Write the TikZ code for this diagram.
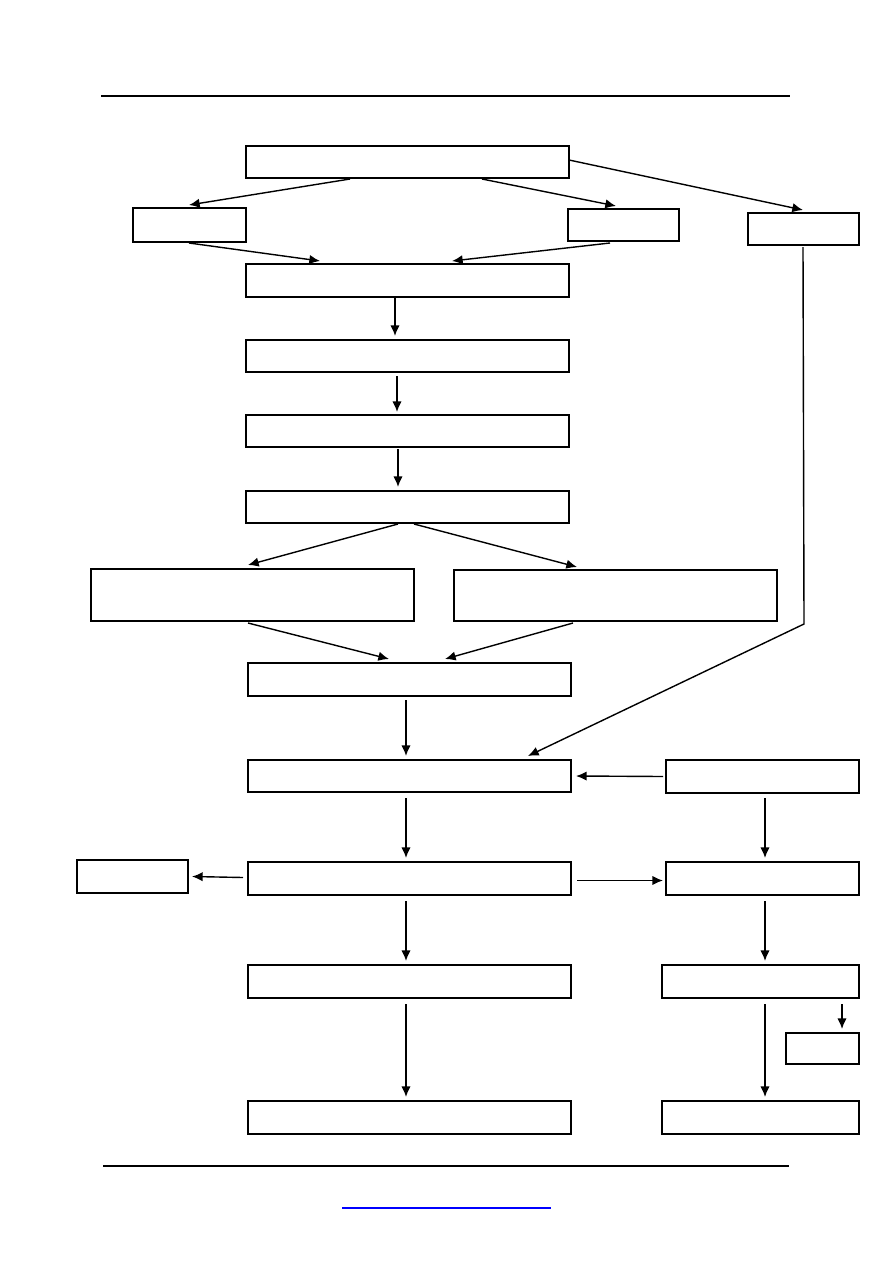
\documentclass[tikz,border=0pt]{standalone}
\usetikzlibrary{fit,calc,arrows.meta}
\begin{document}
\begin{tikzpicture}[x=0.75pt,y=-0.75pt,
  box/.style={draw,line width=1.2pt,inner sep=0pt,outer sep=0pt,fill=white},
  arr/.style={line width=1.05pt,-{Latex[length=8pt,width=7pt]}},
  rule/.style={line width=1.5pt}]
\useasboundingbox (0,0) rectangle (893,1263);
\fill[white] (0,0) rectangle (893,1263);
% header / footer rules
\draw[rule] (101,96) -- (790,96);
\draw[rule] (103,1166) -- (789,1166);
\draw[blue,line width=0.9pt] (342,1208) -- (551,1208);
% boxes
\node[box,fit={(246,146)(569,178)}] (A) {};
\node[box,fit={(133,208)(246,242)}] (B) {};
\node[box,fit={(568,209)(679,241)}] (C) {};
\node[box,fit={(748,213)(859,245)}] (D) {};
\node[box,fit={(246,264)(569,297)}] (E) {};
\node[box,fit={(246,340)(569,372)}] (F) {};
\node[box,fit={(246,415)(569,447)}] (G) {};
\node[box,fit={(246,491)(569,523)}] (H) {};
\node[box,fit={(91,569)(414,621)}] (I) {};
\node[box,fit={(454,570)(777,621)}] (J) {};
\node[box,fit={(248,663)(571,696)}] (K) {};
\node[box,fit={(248,760)(571,792)}] (L) {};
\node[box,fit={(666,760)(859,793)}] (M) {};
\node[box,fit={(77,860)(188,893)}] (N) {};
\node[box,fit={(248,862)(571,895)}] (O) {};
\node[box,fit={(666,862)(859,895)}] (P) {};
\node[box,fit={(248,965)(571,998)}] (Q) {};
\node[box,fit={(662,965)(859,998)}] (R) {};
\node[box,fit={(786,1033)(859,1064)}] (S) {};
\node[box,fit={(248,1101)(571,1134)}] (T) {};
\node[box,fit={(662,1101)(859,1134)}] (U) {};
% connectors
\draw[arr] ($(A.south west)+(104,1)$) -- ($(B.north west)+(56,-3)$);
\draw[arr] ($(A.south west)+(236,1)$) -- ($(C.north west)+(48,-3)$);
\draw[arr] ($(A.north east)+(0,14)$) -- ($(D.north west)+(55,-3)$);
\draw[arr] ($(B.south west)+(56,1)$) -- ($(E.north west)+(74,-3)$);
\draw[arr] ($(C.south west)+(42,2)$) -- ($(E.north west)+(206,-3)$);
\draw[arr] ($(E.south west)+(149,1)$) -- ($(F.north west)+(149,-4)$);
\draw[arr] ($(F.south west)+(151,4)$) -- ($(G.north west)+(151,-3)$);
\draw[arr] ($(G.south west)+(152,2)$) -- ($(H.north west)+(152,-4)$);
\draw[arr] ($(H.south west)+(152,1)$) -- ($(I.north west)+(157,-4)$);
\draw[arr] ($(H.south west)+(168,1)$) -- ($(J.north west)+(123,-3)$);
\draw[arr] ($(I.south west)+(157,2)$) -- ($(K.north west)+(141,-4)$);
\draw[arr] ($(J.south west)+(119,2)$) -- ($(K.north west)+(197,-4)$);
\draw[arr] ($(K.south west)+(158,4)$) -- ($(L.north west)+(158,-4)$);
\coordinate (bend) at ($(D.south west)+(56,379)$);
\draw[arr] ($(D.south west)+(55,2)$) -- (bend) -- ($(L.north west)+(280,-4)$);
\draw[arr] ($(M.west)+(-3,0)$) -- ($(L.east)+(5,0)$);
\draw[arr] ($(L.south west)+(158,6)$) -- ($(O.north west)+(158,-4)$);
\draw[arr] ($(O.west)+(-5,-1)$) -- ($(N.east)+(4,0)$);
\draw[arr] ($(O.east)+(6,2)$) -- ($(P.west)+(-3,2)$);
\draw[arr] ($(M.south west)+(99,5)$) -- ($(P.north west)+(99,-4)$);
\draw[arr] ($(O.south west)+(158,6)$) -- ($(Q.north west)+(158,-4)$);
\draw[arr] ($(P.south west)+(99,6)$) -- ($(R.north west)+(103,-4)$);
\draw[arr] ($(Q.south west)+(158,6)$) -- ($(T.north west)+(158,-4)$);
\draw[arr] ($(R.south west)+(103,6)$) -- ($(U.north west)+(103,-4)$);
\draw[arr] ($(R.south west)+(180,6)$) -- ($(S.north west)+(56,-4)$);
\end{tikzpicture}
\end{document}
